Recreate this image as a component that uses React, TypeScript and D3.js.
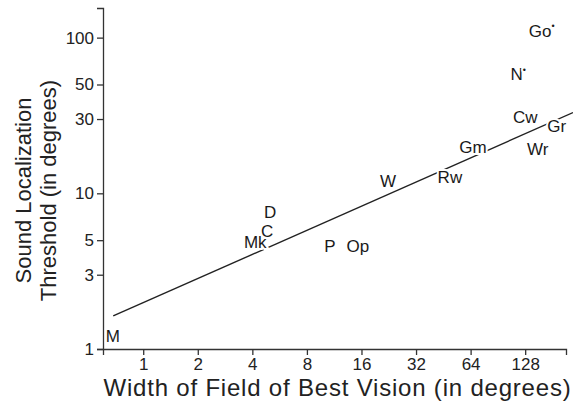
import { useEffect, useRef } from "react";
import * as d3 from "d3";

// species labels, x = width of field of best vision, y = localization threshold
const species = ["M", "Mk", "C", "D", "P", "Op", "W", "Rw", "Gm", "Cw", "Gr", "Wr", "N", "Go"];
const fieldWidth = [0.68, 4.15, 4.83, 5.02, 10.7, 15.3, 22.4, 49.2, 65.9, 128, 191, 150, 117, 158];
const threshold = [1.19, 4.78, 5.62, 7.44, 4.5, 4.5, 11.8, 12.5, 19.4, 30.3, 26.5, 18.9, 57, 108];
const marked = ["N", "Go"];

// regression line end points
const fitX = [0.683, 235];
const fitY = [1.63, 33];

const xTicks = [1, 2, 4, 8, 16, 32, 64, 128];
const yTicks = [1, 3, 5, 10, 30, 50, 100];

export default function App() {
  const ref = useRef<SVGSVGElement>(null);

  useEffect(() => {
    const width = 573;
    const height = 402;
    const left = 103;
    const right = 566;
    const top = 8;
    const bottom = 349;
    const font = "Liberation Sans, Arial, Helvetica, sans-serif";

    const svg = d3.select(ref.current);
    svg.selectAll("*").remove();
    svg.attr("width", width).attr("height", height);

    const x = d3.scaleLog().base(2).domain([0.6, 215]).range([left, right]);
    const y = d3.scaleLog().domain([1, 155]).range([bottom, top]);

    const xAxis = svg
      .append("g")
      .attr("transform", `translate(0,${bottom})`)
      .call(
        d3.axisBottom(x).tickValues(xTicks).tickFormat(d3.format("d")).tickSizeOuter(0).tickSize(6).tickPadding(3)
      );
    const yAxis = svg
      .append("g")
      .attr("transform", `translate(${left},0)`)
      .call(
        d3.axisLeft(y).tickValues(yTicks).tickFormat(d3.format("d")).tickSizeOuter(0).tickSize(6).tickPadding(3)
      );

    [xAxis, yAxis].forEach((a) => {
      a.selectAll("path, line").attr("stroke", "#333").attr("stroke-width", 1.3);
      a.selectAll("text").attr("font-family", font).attr("font-size", 17).attr("fill", "#222");
    });

    // fit line
    const line = d3
      .line<number>()
      .x((d) => x(fitX[d]))
      .y((d) => y(fitY[d]));
    svg
      .append("path")
      .attr("d", line([0, 1]))
      .attr("fill", "none")
      .attr("stroke", "#222")
      .attr("stroke-width", 1.4);

    // species labels
    const labels = svg
      .selectAll(".lab")
      .data(species)
      .enter()
      .append("text")
      .attr("class", "lab")
      .attr("x", (_, i) => x(fieldWidth[i]))
      .attr("y", (_, i) => y(threshold[i]))
      .attr("text-anchor", "middle")
      .attr("dominant-baseline", "middle")
      .attr("font-family", font)
      .attr("font-size", 17)
      .attr("fill", "#1a1a1a")
      .attr("stroke", "white")
      .attr("stroke-width", 4)
      .attr("paint-order", "stroke")
      .text((d) => d);

    labels
      .filter((d) => marked.includes(d))
      .append("tspan")
      .attr("font-size", 9)
      .attr("dy", -5)
      .text("•");

    // axis titles
    svg
      .append("text")
      .attr("x", (left + right) / 2 + 3)
      .attr("y", 396)
      .attr("text-anchor", "middle")
      .attr("font-family", font)
      .attr("font-size", 24)
      .attr("letter-spacing", 0.8)
      .attr("fill", "#222")
      .text("Width of Field of Best Vision (in degrees)");

    const yTitle = svg
      .append("text")
      .attr("transform", `translate(0,${(top + bottom) / 2 + 12}) rotate(-90)`)
      .attr("text-anchor", "middle")
      .attr("font-family", font)
      .attr("font-size", 22)
      .attr("fill", "#222");
    yTitle.append("tspan").attr("x", 0).attr("y", 31).text("Sound Localization");
    yTitle.append("tspan").attr("x", 0).attr("y", 56).text("Threshold (in degrees)");
  }, []);

  return <svg ref={ref} style={{ position: "absolute", left: 0, top: 0, background: "white" }} />;
}
